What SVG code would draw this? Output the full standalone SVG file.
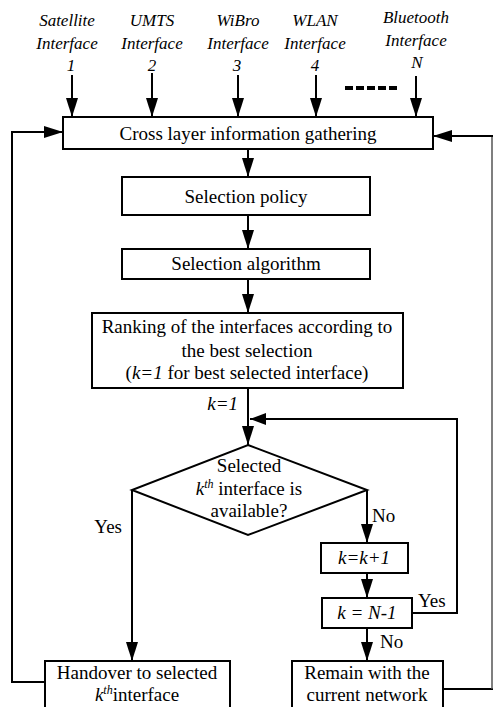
<svg xmlns="http://www.w3.org/2000/svg" width="493" height="707" viewBox="0 0 493 707" font-family="Liberation Serif, DejaVu Serif, serif">
<style>
text{font-family:Liberation Serif, DejaVu Serif, serif}
.t{font-size:19px;fill:#000;text-anchor:middle}
.i{font-style:italic}
.lbl{font-size:17px;font-style:italic;fill:#000;text-anchor:middle}
.box{fill:#fff;stroke:#000;stroke-width:2}
.ln{fill:none;stroke:#000;stroke-width:2}
</style>
<defs>
<marker id="ah" viewBox="0 0 19 12" refX="19" refY="6" markerWidth="19" markerHeight="12" markerUnits="userSpaceOnUse" orient="auto">
<path d="M0,0 L19,6 L0,12 z" fill="#000"/>
</marker>
<marker id="ahs" viewBox="0 0 16 12" refX="16" refY="6" markerWidth="16" markerHeight="12" markerUnits="userSpaceOnUse" orient="auto">
<path d="M0,0 L16,6 L0,12 z" fill="#000"/>
</marker>
</defs>
<rect width="493" height="707" fill="#fff"/>

<g id="inputs">
<g id="in1"><text class="lbl" x="67" y="26">Satellite</text><text class="lbl" x="67" y="49">Interface</text><text class="lbl" x="71" y="71">1</text></g>
<g id="in2"><text class="lbl" x="152" y="26">UMTS</text><text class="lbl" x="152" y="49">Interface</text><text class="lbl" x="152" y="71">2</text></g>
<g id="in3"><text class="lbl" x="238" y="26">WiBro</text><text class="lbl" x="238" y="49">Interface</text><text class="lbl" x="237" y="71">3</text></g>
<g id="in4"><text class="lbl" x="315" y="26">WLAN</text><text class="lbl" x="315" y="49">Interface</text><text class="lbl" x="315" y="71">4</text></g>
<g id="inN"><text class="lbl" x="416" y="23">Bluetooth</text><text class="lbl" x="416" y="46">Interface</text><text class="lbl" x="417" y="68">N</text></g>
</g>

<g id="connectors">
<line class="ln" x1="72" y1="75" x2="72" y2="117" marker-end="url(#ah)"/>
<line class="ln" x1="152" y1="73" x2="152" y2="117" marker-end="url(#ah)"/>
<line class="ln" x1="238" y1="75" x2="238" y2="117" marker-end="url(#ah)"/>
<line class="ln" x1="316" y1="75" x2="316" y2="117" marker-end="url(#ah)"/>
<line class="ln" x1="416" y1="76" x2="416" y2="117" marker-end="url(#ah)"/>
<line x1="345" y1="88" x2="397" y2="88" stroke="#000" stroke-width="4" stroke-dasharray="8 3"/>
<line class="ln" x1="248" y1="149" x2="248" y2="177" marker-end="url(#ah)"/>
<line class="ln" x1="248" y1="215" x2="248" y2="249" marker-end="url(#ah)"/>
<line class="ln" x1="248" y1="279" x2="248" y2="313" marker-end="url(#ah)"/>
<line class="ln" x1="248" y1="388" x2="248" y2="445" marker-end="url(#ah)"/>
<polyline class="ln" points="412,613 457,613 457,419 250,419" marker-end="url(#ahs)"/>
<polyline class="ln" points="132,490 132,661" marker-end="url(#ah)"/>
<polyline class="ln" points="367,490 367,543" marker-end="url(#ah)"/>
<line class="ln" x1="367" y1="573" x2="367" y2="598" marker-end="url(#ah)"/>
<line class="ln" x1="367" y1="628" x2="367" y2="661" marker-end="url(#ah)"/>
<polyline class="ln" points="45,682 12,682 12,132 63,132" marker-end="url(#ah)"/>
<line class="ln" x1="443" y1="689" x2="493" y2="689"/>
<line x1="492" y1="136" x2="492" y2="689" stroke="#555" stroke-width="1.5"/>
<line class="ln" x1="493" y1="136" x2="433" y2="136" marker-end="url(#ah)"/>
<text class="t i" x="238" y="410" style="text-anchor:end">k=1</text>
<text class="t" x="122" y="533" style="text-anchor:end">Yes</text>
<text class="t" x="372" y="522" style="text-anchor:start">No</text>
<text class="t" x="418" y="607" style="text-anchor:start">Yes</text>
<text class="t" x="380" y="648" style="text-anchor:start">No</text>
</g>

<g id="cross">
<rect class="box" x="63" y="117" width="370" height="32"/>
<text class="t" x="248" y="140">Cross layer information gathering</text>
</g>
<g id="policy">
<rect class="box" x="122" y="177" width="248" height="38"/>
<text class="t" x="246" y="203">Selection policy</text>
</g>
<g id="algorithm">
<rect class="box" x="122" y="249" width="248" height="30"/>
<text class="t" x="246" y="270">Selection algorithm</text>
</g>
<g id="ranking">
<rect class="box" x="92" y="313" width="311" height="75"/>
<text class="t" x="247" y="333">Ranking of the interfaces according to</text>
<text class="t" x="247" y="357">the best selection</text>
<text class="t" x="247" y="379">(<tspan class="i">k=1</tspan> for best selected interface)</text>
</g>
<g id="decision">
<polygon class="box" points="248,445 367,490 248,535 132,490"/>
<text class="t" x="249" y="472">Selected</text>
<text class="t" x="249" y="495"><tspan class="i">k</tspan><tspan class="i" font-size="12" dy="-7">th</tspan><tspan dy="7"> interface is</tspan></text>
<text class="t" x="249" y="517">available?</text>
</g>
<g id="increment">
<rect class="box" x="321" y="543" width="87" height="30"/>
<text class="t i" x="364" y="564">k=k+1</text>
</g>
<g id="check">
<rect class="box" x="322" y="598" width="90" height="30"/>
<text class="t i" x="367" y="619">k = N-1</text>
</g>
<g id="handover">
<rect class="box" x="45" y="661" width="185" height="50"/>
<text class="t" x="137" y="679">Handover to selected</text>
<text class="t" x="137" y="701"><tspan class="i">k</tspan><tspan class="i" font-size="12" dy="-7">th</tspan><tspan dy="7">interface</tspan></text>
</g>
<g id="remain">
<rect class="box" x="292" y="661" width="151" height="50"/>
<text class="t" x="367" y="679">Remain with the</text>
<text class="t" x="367" y="701">current network</text>
</g>
</svg>
